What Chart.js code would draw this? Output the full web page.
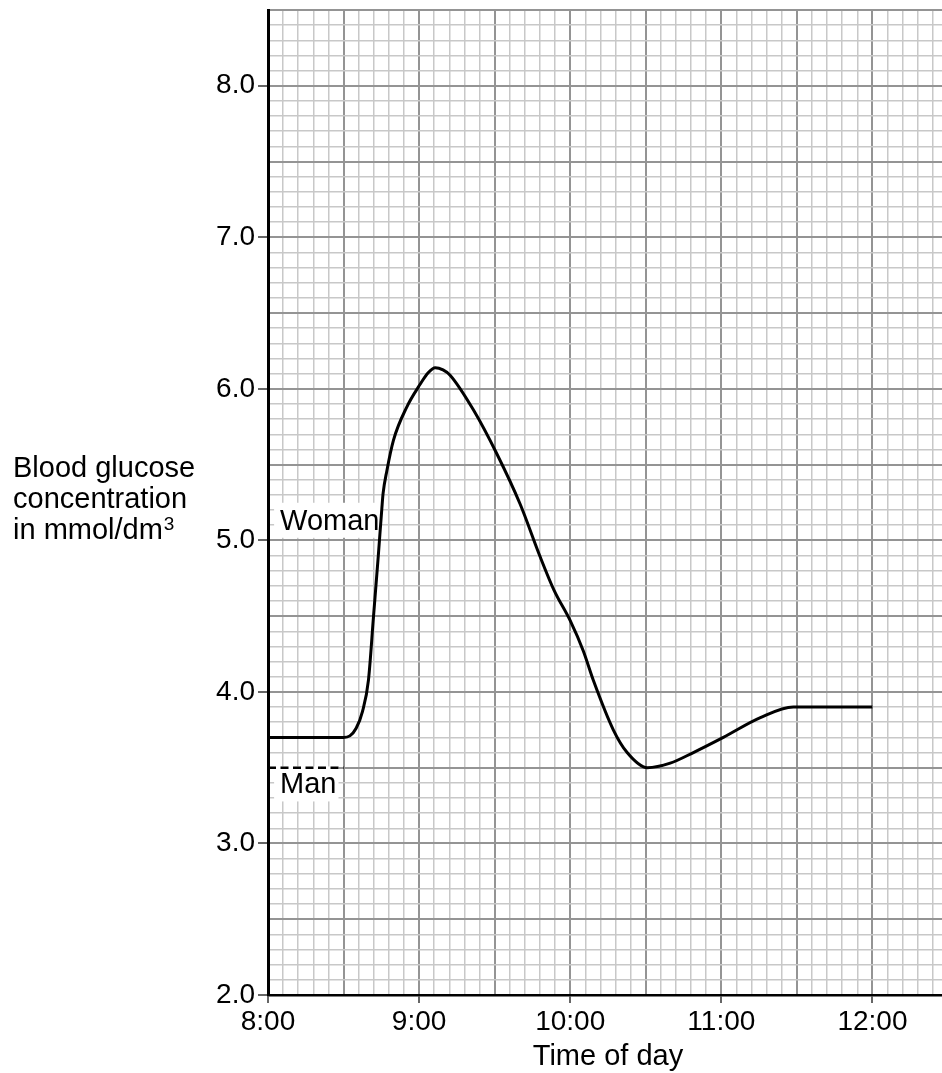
<!DOCTYPE html>
<html>
<head>
<meta charset="utf-8">
<script src="https://cdn.jsdelivr.net/npm/chart.js@4.4.1/dist/chart.umd.min.js"></script>
<style>
  html, body { margin: 0; padding: 0; background: #fff; overflow: hidden; width: 942px; height: 1073px; }
  #wrap { position: absolute; left: 0; top: 0; width: 948px; height: 1073px; }
</style>
</head>
<body>
<div id="wrap"><canvas id="c" width="948" height="1073" style="width:948px;height:1073px"></canvas></div>
<script>
// ---- data (x in minutes after 8:00) ----
const womanTimes  = [0, 30, 32.5, 35, 37.5, 39.9, 41.9, 43.8, 45.2, 45.7, 47.2, 49.8, 55.1, 60.4, 63.5, 66.4, 69.5, 72.3, 81.6, 90.9, 100.1, 108.1, 113.6, 120, 125.2, 129.1, 137.1, 142.6, 150.6, 159.7, 168.9, 180.8, 195.5, 208.6, 215, 240];
const womanValues = [3.70, 3.70, 3.71, 3.76, 3.87, 4.08, 4.50, 4.90, 5.21, 5.31, 5.46, 5.66, 5.88, 6.03, 6.105, 6.14, 6.125, 6.09, 5.86, 5.57, 5.24, 4.89, 4.67, 4.47, 4.27, 4.08, 3.75, 3.60, 3.50, 3.53, 3.60, 3.70, 3.83, 3.90, 3.90, 3.90];
const manTimes  = [0, 30];
const manValues = [3.5, 3.5];
const xTickLabels = ['8:00', '9:00', '10:00', '11:00', '12:00'];
const labelTexts = ['Woman', 'Man'];
const labelTimes = [4.8, 4.8];
const labelValues = [5.07, 3.33];
const yTitleLines = ['Blood glucose', 'concentration', 'in mmol/dm'];
const yTitleSup = '3';
const xTitle = 'Time of day';

const FONT = '"Liberation Sans", Arial, Helvetica, sans-serif';

function isMajorX(v) { return Math.abs(v / 30 - Math.round(v / 30)) < 1e-6; }
function isHourX(v) { return Math.abs(v / 60 - Math.round(v / 60)) < 1e-6; }
function isMajorY(v) { return Math.abs(v * 2 - Math.round(v * 2)) < 1e-6; }
function isIntY(v) { return Math.abs(v - Math.round(v)) < 1e-6; }

const textPlugin = {
  id: 'texts',
  beforeDatasetsDraw(chart) {
    const { ctx, scales: { x, y } } = chart;
    ctx.save();
    ctx.font = '29px ' + FONT;
    ctx.textBaseline = 'alphabetic';
    ctx.textAlign = 'left';
    labelTexts.forEach((t, i) => {
      const px = x.getPixelForValue(labelTimes[i]);
      const py = y.getPixelForValue(labelValues[i]);
      const w = ctx.measureText(t).width;
      ctx.fillStyle = '#fff';
      ctx.fillRect(px - 6, py - 27, w + 8, 35);
      ctx.fillStyle = '#000';
      ctx.fillText(t, px, py);
    });
    ctx.restore();
  },
  afterDraw(chart) {
    const { ctx, chartArea } = chart;
    ctx.save();
    ctx.fillStyle = '#000';
    ctx.font = '29px ' + FONT;
    ctx.textAlign = 'left';
    ctx.textBaseline = 'alphabetic';
    const base = [477, 508, 539];
    yTitleLines.forEach((t, i) => ctx.fillText(t, 13, base[i]));
    const w = ctx.measureText(yTitleLines[2]).width;
    ctx.font = '19px ' + FONT;
    ctx.fillText(yTitleSup, 13 + w + 1, 530);
    ctx.font = '29px ' + FONT;
    ctx.textAlign = 'center';
    ctx.fillText(xTitle, (chartArea.left + chartArea.right) / 2, 1065);
    ctx.restore();
  }
};

new Chart(document.getElementById('c'), {
  type: 'line',
  data: {
    datasets: [
      {
        label: 'Woman',
        data: womanTimes.map((t, i) => ({ x: t, y: womanValues[i] })),
        borderColor: '#000',
        borderWidth: 3,
        pointRadius: 0,
        cubicInterpolationMode: 'monotone',
        fill: false
      },
      {
        label: 'Man',
        data: manTimes.map((t, i) => ({ x: t, y: manValues[i] })),
        borderColor: '#000',
        borderWidth: 2.5,
        borderDash: [8, 4.5],
        pointRadius: 0,
        fill: false
      }
    ]
  },
  options: {
    responsive: false,
    animation: false,
    devicePixelRatio: 1,
    layout: { padding: { top: 10, right: 0, left: 0, bottom: 0 } },
    plugins: { legend: { display: false }, tooltip: { enabled: false } },
    scales: {
      x: {
        type: 'linear',
        min: 0,
        max: 270,
        afterFit(s) { s.height = 78; s.paddingLeft = 0; s.paddingRight = 0; },
        border: { color: '#000', width: 2.5 },
        grid: {
          color: c => isMajorX(c.tick.value) ? '#949494' : '#c8c8c8',
          lineWidth: c => isMajorX(c.tick.value) ? 2 : 1.5,
          tickColor: c => isHourX(c.tick.value) ? '#333' : 'rgba(0,0,0,0)',
          tickWidth: 1.5,
          tickLength: 8,
          drawTicks: true
        },
        ticks: {
          stepSize: 6,
          maxTicksLimit: 1000,
          autoSkip: false,
          maxRotation: 0,
          padding: 2,
          color: '#000',
          font: { size: 28, family: FONT },
          callback: v => isHourX(v) && v <= 240 ? xTickLabels[Math.round(v / 60)] : ''
        }
      },
      y: {
        type: 'linear',
        min: 2,
        max: 8.5,
        afterFit(s) { s.width = 268; s.paddingTop = 0; s.paddingBottom = 0; },
        border: { color: '#000', width: 3 },
        grid: {
          color: c => isMajorY(c.tick.value) ? '#949494' : '#c8c8c8',
          lineWidth: c => isMajorY(c.tick.value) ? 2 : 1.5,
          tickColor: c => isIntY(c.tick.value) && c.tick.value <= 8 ? '#333' : 'rgba(0,0,0,0)',
          tickWidth: 1.5,
          tickLength: 10,
          drawTicks: true
        },
        ticks: {
          stepSize: 0.1,
          maxTicksLimit: 1000,
          autoSkip: false,
          padding: 3,
          color: '#000',
          font: { size: 28, family: FONT },
          callback: v => isIntY(v) && v <= 8 ? v.toFixed(1) : ''
        }
      }
    }
  },
  plugins: [textPlugin]
});
</script>
</body>
</html>
